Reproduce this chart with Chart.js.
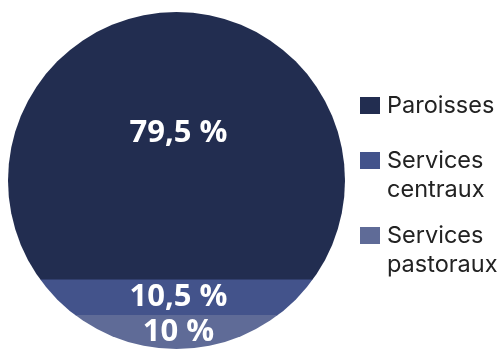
<!DOCTYPE html>
<html>
<head>
<meta charset="utf-8">
<script src="https://cdn.jsdelivr.net/npm/chart.js@4.4.1/dist/chart.umd.min.js"></script>
<style>
  body { margin: 0; background: #fff; }
  canvas { display: block; }
</style>
</head>
<body>
<canvas id="chart" width="498" height="349"></canvas>
<script>
// data, top band first (same order as the legend)
const categories = ['Paroisses', 'Services centraux', 'Services pastoraux'];
const values = [79.5, 10.5, 10];
const valueLabels = ['79,5 %', '10,5 %', '10 %'];
const colors = ['#222d50', '#43538b', '#5f6b97'];

// chart.js stacks the first dataset at the bottom, so build them reversed
const datasets = [];
for (let i = categories.length - 1; i >= 0; i--) {
    datasets.push({
        label: categories[i],
        data: [values[i]],
        backgroundColor: colors[i],
        borderWidth: 0,
        valueLabel: valueLabels[i]
    });
}

// clip the stacked bar into a circle
const circleClip = {
    id: 'circleClip',
    beforeDatasetsDraw(chart) {
        const a = chart.chartArea;
        const ctx = chart.ctx;
        ctx.save();
        ctx.beginPath();
        ctx.arc((a.left + a.right) / 2, (a.top + a.bottom) / 2, (a.right - a.left) / 2, 0, Math.PI * 2);
        ctx.clip();
    },
    afterDatasetsDraw(chart) {
        chart.ctx.restore();
    }
};

// white percentage labels in the middle of each band
const bandLabels = {
    id: 'bandLabels',
    afterDatasetsDraw(chart) {
        const ctx = chart.ctx;
        const a = chart.chartArea;
        ctx.save();
        ctx.fillStyle = '#ffffff';
        ctx.font = 'bold 31px "Open Sans"';
        ctx.textAlign = 'center';
        ctx.textBaseline = 'middle';
        chart.data.datasets.forEach(function (ds, i) {
            const el = chart.getDatasetMeta(i).data[0];
            const top = Math.max(el.y, a.top);
            let y = (top + el.base) / 2;
            if (el.base - top > 100) y -= 13; // big band: label sits a bit higher
            ctx.fillText(ds.valueLabel, (a.left + a.right) / 2 + 2, y);
        });
        ctx.restore();
    }
};

// legend on the right, labels wrapped at spaces
const sideLegend = {
    id: 'sideLegend',
    afterDraw(chart) {
        const ctx = chart.ctx;
        const x = chart.chartArea.right + 15;
        let y = 97;
        ctx.save();
        ctx.font = '23.5px Inter';
        ctx.textBaseline = 'alphabetic';
        ctx.textAlign = 'left';
        for (let i = 0; i < categories.length; i++) {
            ctx.fillStyle = colors[i];
            ctx.fillRect(x, y, 20, 17);
            ctx.fillStyle = '#222222';
            const lines = categories[i].split(' ');
            lines.forEach(function (line, j) {
                ctx.fillText(line, x + 27, y + 16 + j * 29);
            });
            y += 55 + (lines.length - 1) * 20;
        }
        ctx.restore();
    }
};

const ctx = document.getElementById('chart').getContext('2d');
const myChart = new Chart(ctx, {
    type: 'bar',
    data: {
        labels: [''],
        datasets: datasets
    },
    options: {
        responsive: false,
        animation: false,
        layout: { padding: { left: 8, right: 153, top: 12, bottom: 0 } },
        datasets: { bar: { categoryPercentage: 1, barPercentage: 1 } },
        scales: {
            x: { stacked: true, display: false },
            y: { stacked: true, display: false, min: 0, max: 100 }
        },
        plugins: {
            legend: { display: false },
            tooltip: { enabled: false }
        }
    },
    plugins: [circleClip, bandLabels, sideLegend]
});
</script>
</body>
</html>
